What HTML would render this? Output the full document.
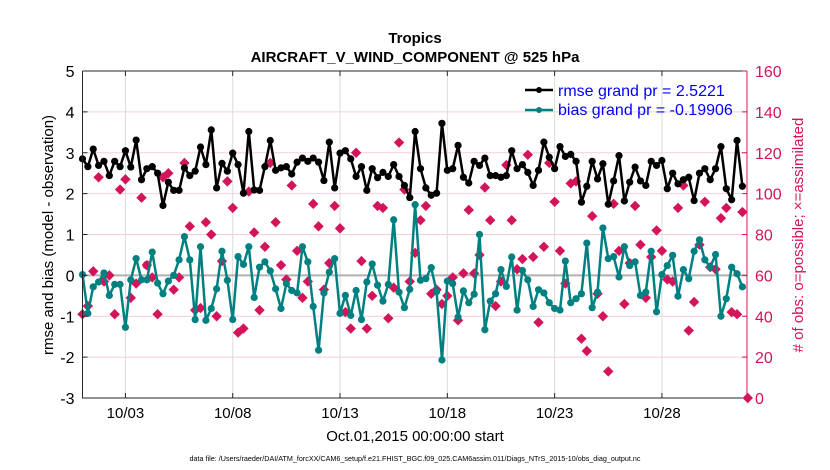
<!DOCTYPE html>
<html><head><meta charset="utf-8"><style>
body{margin:0;background:#fff;}
svg{display:block;font-family:"Liberation Sans",Arial,sans-serif;}
</style></head><body>
<svg id="chart" width="830" height="470" viewBox="0 0 830 470" xmlns="http://www.w3.org/2000/svg">
<rect x="0" y="0" width="830" height="470" fill="#fff"/>
<text x="415" y="43" text-anchor="middle" font-size="15" font-weight="bold">Tropics</text>
<text x="415" y="62" text-anchor="middle" font-size="15" font-weight="bold">AIRCRAFT_V_WIND_COMPONENT @ 525 hPa</text>
<g id="grid"></g>
<g id="marks"></g>
<g id="axes"></g>
<g>
 <line x1="525" y1="90" x2="553" y2="90" stroke="#000" stroke-width="2.5"/>
 <circle cx="539" cy="90" r="3" fill="#000"/>
 <text x="558" y="96" font-size="16" fill="#0000ff">rmse grand pr = 2.5221</text>
 <line x1="525" y1="110" x2="553" y2="110" stroke="#008080" stroke-width="2.5"/>
 <circle cx="539" cy="110" r="3" fill="#008080"/>
 <text x="558" y="115" font-size="16" fill="#0000ff">bias grand pr = -0.19906</text>
</g>
<text transform="translate(53,235) rotate(-90)" text-anchor="middle" font-size="15">rmse and bias (model - observation)</text>
<text transform="translate(803,235) rotate(-90)" text-anchor="middle" font-size="15" fill="#d4145a"># of obs: o=possible; ×=assimilated</text>
<text x="415" y="441" text-anchor="middle" font-size="15">Oct.01,2015 00:00:00 start</text>
<text x="415" y="461" text-anchor="middle" font-size="7.2">data file: /Users/raeder/DAI/ATM_forcXX/CAM6_setup/f.e21.FHIST_BGC.f09_025.CAM6assim.011/Diags_NTrS_2015-10/obs_diag_output.nc</text>
</svg>
<script>
const rmse=[2.85,2.66,3.09,2.69,2.79,2.44,2.79,2.66,3.05,2.65,3.31,2.34,2.61,2.66,2.5,1.71,2.28,2.08,2.08,2.63,2.44,2.55,3.14,2.71,3.56,2.14,2.74,2.55,2.99,2.71,2.01,3.52,
2.09,2.08,2.66,3.3,2.57,2.63,2.66,2.48,2.77,2.87,2.79,2.87,2.77,2.32,3.26,2.14,2.99,3.05,2.85,2.42,2.66,2.08,2.61,2.39,2.52,2.42,2.71,2.42,2.2,1.9,3.52,
2.61,2.14,1.96,2.01,3.72,2.57,2.61,3.18,2.4,2.26,2.79,2.69,2.87,2.44,2.44,2.4,2.44,3.05,2.61,2.71,2.52,2.2,2.57,3.26,2.89,2.61,3.15,2.91,2.96,2.79,1.79,
2.18,2.79,2.36,2.73,1.74,2.31,2.93,1.82,2.28,2.65,2.31,2.2,2.79,2.69,2.81,2.12,2.5,2.24,2.34,2.4,1.83,2.5,2.61,2.34,2.61,3.15,2.12,1.85,3.3,2.18];
const bias=[0.02,-0.93,-0.28,-0.16,0.06,-0.49,-0.22,-0.22,-1.27,-0.11,0.41,-0.11,-0.11,0.57,-0.19,-0.45,-0.14,0,0.38,0.95,0.38,-1.08,0.7,-1.1,-0.81,-0.33,0.59,-0.12,-1.08,0.46,0.27,0.7,
-0.54,0.2,0.33,0.11,-0.33,-0.81,-0.2,-0.37,-0.43,0.7,0.33,-0.76,-1.83,-0.43,0.08,0.41,-0.93,-0.49,-0.98,-0.37,-1.08,-0.16,0.28,-0.24,-0.63,-0.22,1.36,-0.41,-0.79,-0.34,1.73,
-0.12,-0.08,0.19,-0.4,-2.07,-0.14,-0.2,-1.02,-0.38,-0.67,-0.46,1.0,-1.33,-0.63,-0.45,0.14,-0.27,0.45,-0.85,0.12,-0.11,-0.76,-0.35,-0.43,-0.67,-0.81,-0.85,0.35,-0.67,-0.57,-0.45,
0.79,-0.79,-0.41,1.16,0.41,0.46,-0.04,0.7,0.24,0.33,-0.49,-0.41,0.59,-0.89,0.02,0.24,0.49,-0.51,0.14,-0.08,0.59,0.87,0.38,0.2,0.51,-1.0,-0.57,0.2,0.04,-0.28];
const obsUsed=[41,45,62,108,57,60,41,102,107,49,56,98,65,59,41,108,110,53,59,115,84,43,44,86,80,40,67,106,93,32,34,101,
81,43,74,115,86,65,58,104,72,49,57,95,84,53,66,94,83,42,34,120,67,34,50,94,93,39,54,125,102,57,71,
87,94,51,53,46,50,59,38,61,92,61,70,103,87,45,57,114,87,63,68,119,69,37,74,115,96,72,56,105,106,29,
23,89,51,40,13,95,72,46,66,94,75,49,69,82,72,58,57,93,104,33,47,75,96,64,63,88,93,42,41,91,0];
const possibleIdx=[12];
const possibleVal=[65];
const leftTicks=[-3,-2,-1,0,1,2,3,4,5];
const rightTicks=[0,20,40,60,80,100,120,140,160];
const dateTicks=[2,7,12,17,22,27];
const dateLabels=["10/03","10/08","10/13","10/18","10/23","10/28"];
const stepDays=0.25;

const L=82.5,R=747,T=71,B=398;
const dayPx=21.46;
function xs(d){return L+d*dayPx;}
function yl(v){return B-(v+3)/8*(B-T);}
function yr(v){return B-v/160*(B-T);}
const NS="http://www.w3.org/2000/svg";
function mk(tag,attrs,parent){const e=document.createElementNS(NS,tag);for(const k in attrs)e.setAttribute(k,attrs[k]);parent.appendChild(e);return e;}
const grid=document.getElementById('grid'),marks=document.getElementById('marks'),axes=document.getElementById('axes');

leftTicks.forEach(v=>{const g=mk('line',{x1:L,x2:R,y1:yl(v),y2:yl(v),stroke:'#f3cfdd','stroke-width':1},grid);

});
dateTicks.forEach(d=>{const g=mk('line',{x1:xs(d),x2:xs(d),y1:T,y2:B,stroke:'#dcdcdc','stroke-width':1},grid);

});
const zl=mk('line',{x1:L,x2:R,y1:yl(0),y2:yl(0),stroke:'#b0b0b0','stroke-width':2},grid);



possibleIdx.forEach((idx,k)=>{const c=mk('circle',{cx:xs(idx*stepDays),cy:yr(possibleVal[k]),r:3.5,fill:'none',stroke:'#d4145a','stroke-width':1.5},marks);

});

obsUsed.forEach((o,i)=>{const x=xs(i*stepDays),y=yr(o),s=5.2;
const p=mk('polygon',{points:`${x},${y-s} ${x+s},${y} ${x},${y+s} ${x-s},${y}`,fill:'#d4145a'},marks);

});

function series(arr,color,name){
 const pts=arr.map((v,i)=>`${xs(i*stepDays).toFixed(1)},${yl(v).toFixed(1)}`).join(' ');
 const pl=mk('polyline',{points:pts,fill:'none',stroke:color,'stroke-width':2.5,'stroke-linejoin':'round'},marks);
 
 
 arr.forEach((v,i)=>{const c=mk('circle',{cx:xs(i*stepDays),cy:yl(v),r:3.6,fill:color},marks);
 
 });
}
series(bias,'#008080','bias');
series(rmse,'#000000','rmse');

const ax=mk('path',{d:`M${L},${T}V${B}H${R}`,fill:'none',stroke:'#262626','stroke-width':1},axes);


const ra=mk('line',{x1:R,x2:R,y1:T,y2:B,stroke:'#d4145a','stroke-width':1},axes);


const tl=mk('line',{x1:L,x2:R,y1:T,y2:T,stroke:'#262626','stroke-width':1},axes);


leftTicks.forEach(v=>{mk('line',{x1:L,x2:L+5,y1:yl(v),y2:yl(v),stroke:'#262626'},axes);
const t=mk('text',{x:L-8,y:yl(v)+6,'text-anchor':'end','font-size':16},axes);t.textContent=v;

});
rightTicks.forEach(v=>{mk('line',{x1:R-5,x2:R,y1:yr(v),y2:yr(v),stroke:'#d4145a'},axes);
const t=mk('text',{x:R+8,y:yr(v)+6,'font-size':16,fill:'#d4145a'},axes);t.textContent=v;

});
dateTicks.forEach((d,i)=>{mk('line',{x1:xs(d),x2:xs(d),y1:B-5,y2:B,stroke:'#262626'},axes);
mk('line',{x1:xs(d),x2:xs(d),y1:T,y2:T+5,stroke:'#262626'},axes);
const t=mk('text',{x:xs(d),y:418,'text-anchor':'middle','font-size':15},axes);t.textContent=dateLabels[i];

});
</script>
</body></html>
